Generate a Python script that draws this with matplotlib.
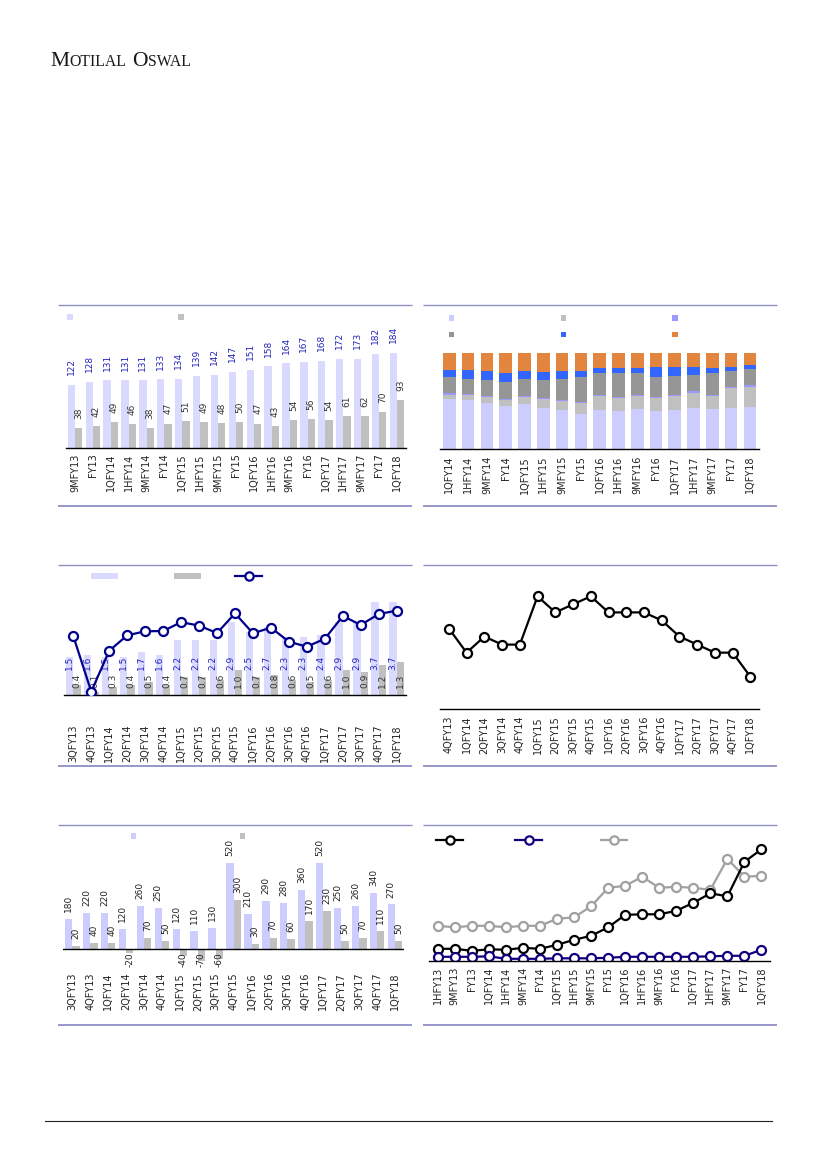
import matplotlib
matplotlib.use('Agg')
import matplotlib.pyplot as plt
import numpy as np
from matplotlib.patches import Rectangle

W, H = 827, 1169

# ---------------- data ----------------
c1_cats = ['9MFY13', 'FY13', '1QFY14', '1HFY14', '9MFY14', 'FY14', '1QFY15', '1HFY15', '9MFY15', 'FY15',
           '1QFY16', '1HFY16', '9MFY16', 'FY16', '1QFY17', '1HFY17', '9MFY17', 'FY17', '1QFY18']
c1_a = [122, 128, 131, 131, 131, 133, 134, 139, 142, 147, 151, 158, 164, 167, 168, 172, 173, 182, 184]
c1_b = [38, 42, 49, 46, 38, 47, 51, 49, 48, 50, 47, 43, 54, 56, 54, 61, 62, 70, 93]

c2_cats = ['1QFY14', '1HFY14', '9MFY14', 'FY14', '1QFY15', '1HFY15', '9MFY15', 'FY15', '1QFY16', '1HFY16',
           '9MFY16', 'FY16', '1QFY17', '1HFY17', '9MFY17', 'FY17', '1QFY18']
c2_s1 = [51.9, 50.9, 48.1, 44.6, 46.7, 42.9, 40.1, 36.3, 40.5, 39.1, 41.5, 39.1, 40.5, 42.6, 41.5, 42.6, 43.6]
c2_s2 = [4.5, 4.8, 5.5, 6.2, 6.9, 9.3, 9.7, 11.4, 14.2, 13.5, 13.8, 13.5, 14.9, 15.9, 13.8, 20.4, 20.8]
c2_s3 = [2.0, 1.0, 1.0, 1.0, 1.0, 0.7, 1.0, 1.0, 1.0, 1.0, 1.0, 1.0, 1.0, 1.7, 1.0, 1.4, 2.1]
c2_s4 = [16.3, 15.9, 17.0, 17.6, 18.0, 18.7, 21.8, 26.0, 23.2, 25.3, 22.5, 21.1, 19.4, 16.6, 22.5, 16.6, 16.3]
c2_s5 = [7.6, 9.7, 9.7, 10.0, 8.7, 8.7, 8.7, 6.6, 5.5, 5.5, 5.5, 10.7, 9.7, 8.7, 5.5, 4.5, 4.2]
c2_s6 = [17.6, 17.6, 18.7, 20.4, 18.7, 19.7, 18.7, 18.7, 15.6, 15.6, 15.6, 14.5, 14.5, 14.5, 15.6, 14.5, 13.1]

c3_cats = ['3QFY13', '4QFY13', '1QFY14', '2QFY14', '3QFY14', '4QFY14', '1QFY15', '2QFY15', '3QFY15', '4QFY15',
           '1QFY16', '2QFY16', '3QFY16', '4QFY16', '1QFY17', '2QFY17', '3QFY17', '4QFY17', '1QFY18']
c3_a = [1.5, 1.6, 1.5, 1.5, 1.7, 1.6, 2.2, 2.2, 2.2, 2.9, 2.5, 2.7, 2.3, 2.3, 2.4, 2.9, 2.9, 3.7, 3.7]
c3_b = [0.4, 0.1, 0.3, 0.4, 0.5, 0.4, 0.7, 0.7, 0.6, 1.0, 0.7, 0.8, 0.6, 0.5, 0.6, 1.0, 0.9, 1.2, 1.3]
c3_line = [26.0, 1.5, 19.5, 26.3, 28.1, 28.2, 32.1, 30.6, 27.3, 36.0, 27.2, 29.7, 23.5, 21.3, 24.8, 34.8,
           30.9, 35.7, 37.2]

c4_cats = ['4QFY13', '1QFY14', '2QFY14', '3QFY14', '4QFY14', '1QFY15', '2QFY15', '3QFY15', '4QFY15',
           '1QFY16', '2QFY16', '3QFY16', '4QFY16', '1QFY17', '2QFY17', '3QFY17', '4QFY17', '1QFY18']
c4_vals = [10, 7, 9, 8, 8, 14, 12, 13, 14, 12, 12, 12, 11, 9, 8, 7, 7, 4]

c5_cats = ['3QFY13', '4QFY13', '1QFY14', '2QFY14', '3QFY14', '4QFY14', '1QFY15', '2QFY15', '3QFY15', '4QFY15',
           '1QFY16', '2QFY16', '3QFY16', '4QFY16', '1QFY17', '2QFY17', '3QFY17', '4QFY17', '1QFY18']
c5_a = [180, 220, 220, 120, 260, 250, 120, 110, 130, 520, 210, 290, 280, 360, 520, 250, 260, 340, 270]
c5_b = [20, 40, 40, -20, 70, 50, -40, -70, -60, 300, 30, 70, 60, 170, 230, 50, 70, 110, 50]

c6_cats = ['1HFY13', '9MFY13', 'FY13', '1QFY14', '1HFY14', '9MFY14', 'FY14', '1QFY15', '1HFY15', '9MFY15',
           'FY15', '1QFY16', '1HFY16', '9MFY16', 'FY16', '1QFY17', '1HFY17', '9MFY17', 'FY17', '1QFY18']
c6_black = [25, 25, 21, 24, 23, 27, 25, 33, 43, 51, 68, 93, 94, 94, 101, 117, 136, 130, 199, 224]
c6_navy = [9, 9, 9, 10, 5, 5, 5, 6, 6, 6, 7, 9, 9, 9, 9, 9, 10, 11, 11, 23]
c6_gray = [71, 68, 71, 71, 68, 71, 71, 85, 88, 110, 147, 151, 169, 147, 149, 147, 143, 205, 169, 171]

# ---------------- styles ----------------
LAV = '#DADAFF'
LAV2 = '#CCCCFF'
GRY = '#C0C0C0'
BLUE_TXT = '#2323BB'
DARK_TXT = '#333333'
FRAME = '#8F8FC8'
NAVY = '#00008B'
NAVY2 = '#14007F'
LGRAY = '#A0A0A0'

fig = plt.figure(figsize=(W / 100, H / 100), dpi=100)
ov = fig.add_axes([0, 0, 1, 1])
ov.set_xlim(0, W)
ov.set_ylim(H, 0)
ov.axis('off')


def add_ax(x0, x1, ytop, ybot, pad=4):
    a = fig.add_axes([x0 / W, 1 - ybot / H, (x1 - x0) / W, (ybot - ytop) / H])
    for s in a.spines.values():
        s.set_visible(False)
    a.patch.set_alpha(0)
    a.set_yticks([])
    a.tick_params(axis='x', length=0, labelsize=7, labelcolor='#222222', pad=pad)
    return a


def set_cats(a, cats):
    a.set_xticks(np.arange(len(cats)))
    a.set_xticklabels(cats, rotation=90, family='DejaVu Sans')
    a.set_xlim(-0.5, len(cats) - 0.5)


# ---------------- header / frames ----------------
renderer = fig.canvas.get_renderer()
xcur = 50
for txt, size in [('M', 15.5), ('OTILAL', 11.3), (None, 0), ('O', 15.5), ('SWAL', 11.3)]:
    if txt is None:
        xcur += 5
        continue
    t = fig.text(xcur / W, 1 - 66 / H, txt, fontsize=size, family='Liberation Serif',
                 va='baseline', ha='left', color='#1a1a1a')
    xcur += t.get_window_extent(renderer).width + 0.6

ov.plot([45, 772], [1121, 1121], color='#222222', lw=0.8)

for (x0, x1, yt, yb) in [(58, 412, 305, 506), (423, 777, 305, 506),
                         (58, 412, 565, 766), (423, 777, 565, 766),
                         (58, 412, 825, 1025), (423, 777, 825, 1025)]:
    ov.plot([x0, x1], [yt, yt], color=FRAME, lw=1.0, solid_capstyle='butt')
    ov.plot([x0, x1], [yb, yb], color=FRAME, lw=1.3, solid_capstyle='butt')


def sq(x, y, c, w=5.5, h=5.5):
    ov.add_patch(Rectangle((x, y), w, h, color=c, lw=0))


def leg_line(x0, x1, y, c):
    ov.plot([x0, x1], [y, y], color=c, lw=1.6)
    ov.plot([(x0 + x1) / 2], [y], marker='o', ms=6, mfc='white', mec=c, mew=1.6)


# ---------------- chart 1 ----------------
a1 = add_ax(66, 406, 319, 447.7, pad=4)
x = np.arange(len(c1_cats))
bw = 0.41
a1.bar(x - bw / 2, c1_a, bw, color=LAV, lw=0)
a1.bar(x + bw / 2, c1_b, bw, color=GRY, lw=0)
a1.set_ylim(0, 250)
set_cats(a1, c1_cats)
a1.spines['bottom'].set_visible(True)
a1.spines['bottom'].set_color('black')
a1.spines['bottom'].set_linewidth(1.0)
for i, (va_, vb_) in enumerate(zip(c1_a, c1_b)):
    a1.annotate(str(va_), (i - bw / 2, va_), xytext=(0, 7), textcoords='offset points', rotation=90,
                ha='center', va='bottom', fontsize=6.5, color=BLUE_TXT)
    a1.annotate(str(vb_), (i + bw / 2, vb_), xytext=(0, 6.5), textcoords='offset points', rotation=90,
                ha='center', va='bottom', fontsize=6.5, color=DARK_TXT)
sq(67, 314, LAV)
sq(178.3, 314, GRY)

# ---------------- chart 2 ----------------
a2 = add_ax(440, 759.3, 352.7, 449, pad=5)
x = np.arange(len(c2_cats))
series2 = [c2_s1, c2_s2, c2_s3, c2_s4, c2_s5, c2_s6]
cols2 = ['#CCCCFF', '#C0C0C0', '#9999FF', '#969696', '#3366FF', '#E2853F']
bottom = np.zeros(len(c2_cats))
for s, c in zip(series2, cols2):
    s = np.array(s)
    a2.bar(x, s, 0.67, bottom=bottom, color=c, lw=0)
    bottom += s
a2.set_ylim(0, 100)
set_cats(a2, c2_cats)
a2.spines['bottom'].set_visible(True)
a2.spines['bottom'].set_color('black')
a2.spines['bottom'].set_linewidth(1.0)
sq(448.5, 315, cols2[0]); sq(560.5, 315, cols2[1]); sq(672, 315, cols2[2])
sq(448.5, 331.7, cols2[3]); sq(560.5, 331.7, cols2[4]); sq(672, 331.7, cols2[5])

# ---------------- chart 3 ----------------
a3 = add_ax(64.3, 405.7, 581.6, 695, pad=21)
x = np.arange(len(c3_cats))
a3.bar(x - bw / 2, c3_a, bw, color=LAV, lw=0)
a3.bar(x + bw / 2, c3_b, bw, color=GRY, lw=0)
a3.set_ylim(0, 4.5)
set_cats(a3, c3_cats)
a3.spines['bottom'].set_visible(True)
a3.spines['bottom'].set_color('black')
a3.spines['bottom'].set_linewidth(1.0)
for i, (va_, vb_) in enumerate(zip(c3_a, c3_b)):
    a3.text(i - bw / 2, 1.27, f'{va_:.1f}', rotation=90, ha='center', va='center', fontsize=6.5,
            color=BLUE_TXT)
    a3.text(i + bw / 2, 0.575, f'{vb_:.1f}', rotation=90, ha='center', va='center', fontsize=6.5,
            color=DARK_TXT)
a3b = a3.twinx()
for s in a3b.spines.values():
    s.set_visible(False)
a3b.set_yticks([])
a3b.set_ylim(0, 50)
a3b.plot(x, c3_line, color=NAVY, lw=1.6, marker='o', ms=6.5, mfc='white', mec=NAVY, mew=1.6)
ov.add_patch(Rectangle((91, 572.7), 26.7, 6, color=LAV, lw=0))
ov.add_patch(Rectangle((174, 572.7), 26.7, 6, color=GRY, lw=0))
leg_line(235, 262.3, 575.7, NAVY)

# ---------------- chart 4 ----------------
a4 = add_ax(440, 759.3, 580.2, 709, pad=5)
x = np.arange(len(c4_cats))
a4.plot(x, c4_vals, color='black', lw=1.6, marker='o', ms=6.5, mfc='white', mec='black', mew=1.6)
a4.set_ylim(0, 16)
set_cats(a4, c4_cats)
a4.spines['bottom'].set_visible(True)
a4.spines['bottom'].set_color('black')
a4.spines['bottom'].set_linewidth(1.0)

# ---------------- chart 5 ----------------
a5 = add_ax(63.3, 404, 849.7, 965.9, pad=5)
x = np.arange(len(c5_cats))
a5.bar(x - bw / 2, c5_a, bw, color=LAV2, lw=0)
a5.bar(x + bw / 2, c5_b, bw, color=GRY, lw=0)
a5.set_ylim(-100, 600)
set_cats(a5, c5_cats)
a5.axhline(0, color='black', lw=1.0)
for i, (va_, vb_) in enumerate(zip(c5_a, c5_b)):
    a5.annotate(str(va_), (i - bw / 2, va_), xytext=(0, 5), textcoords='offset points', rotation=90,
                ha='center', va='bottom', fontsize=6.5, color='#222222')
    if vb_ >= 0:
        a5.annotate(str(vb_), (i + bw / 2, vb_), xytext=(0, 5), textcoords='offset points', rotation=90,
                    ha='center', va='bottom', fontsize=6.5, color='#222222')
    else:
        a5.annotate(str(vb_), (i + bw / 2, 0), xytext=(0, -2), textcoords='offset points', rotation=90,
                    ha='center', va='top', fontsize=6.5, color='#222222')
sq(130.5, 833.3, LAV2)
sq(239.7, 833.3, GRY)

# ---------------- chart 6 ----------------
a6 = add_ax(429.3, 770, 841.3, 961.3, pad=4)
x = np.arange(len(c6_cats))
a6.plot(x, c6_gray, color=LGRAY, lw=1.6, marker='o', ms=6.5, mfc='white', mec=LGRAY, mew=1.6)
a6.plot(x, c6_black, color='black', lw=1.6, marker='o', ms=6.5, mfc='white', mec='black', mew=1.6)
a6.plot(x, c6_navy, color=NAVY2, lw=1.6, marker='o', ms=6.5, mfc='white', mec=NAVY2, mew=1.6)
a6.set_ylim(0, 240)
set_cats(a6, c6_cats)
a6.spines['bottom'].set_visible(True)
a6.spines['bottom'].set_color('black')
a6.spines['bottom'].set_linewidth(1.0)
leg_line(436, 463.3, 840, 'black')
leg_line(515, 542.3, 840, NAVY2)
leg_line(601, 627.3, 840, LGRAY)

fig.savefig('out.png', dpi=100)
